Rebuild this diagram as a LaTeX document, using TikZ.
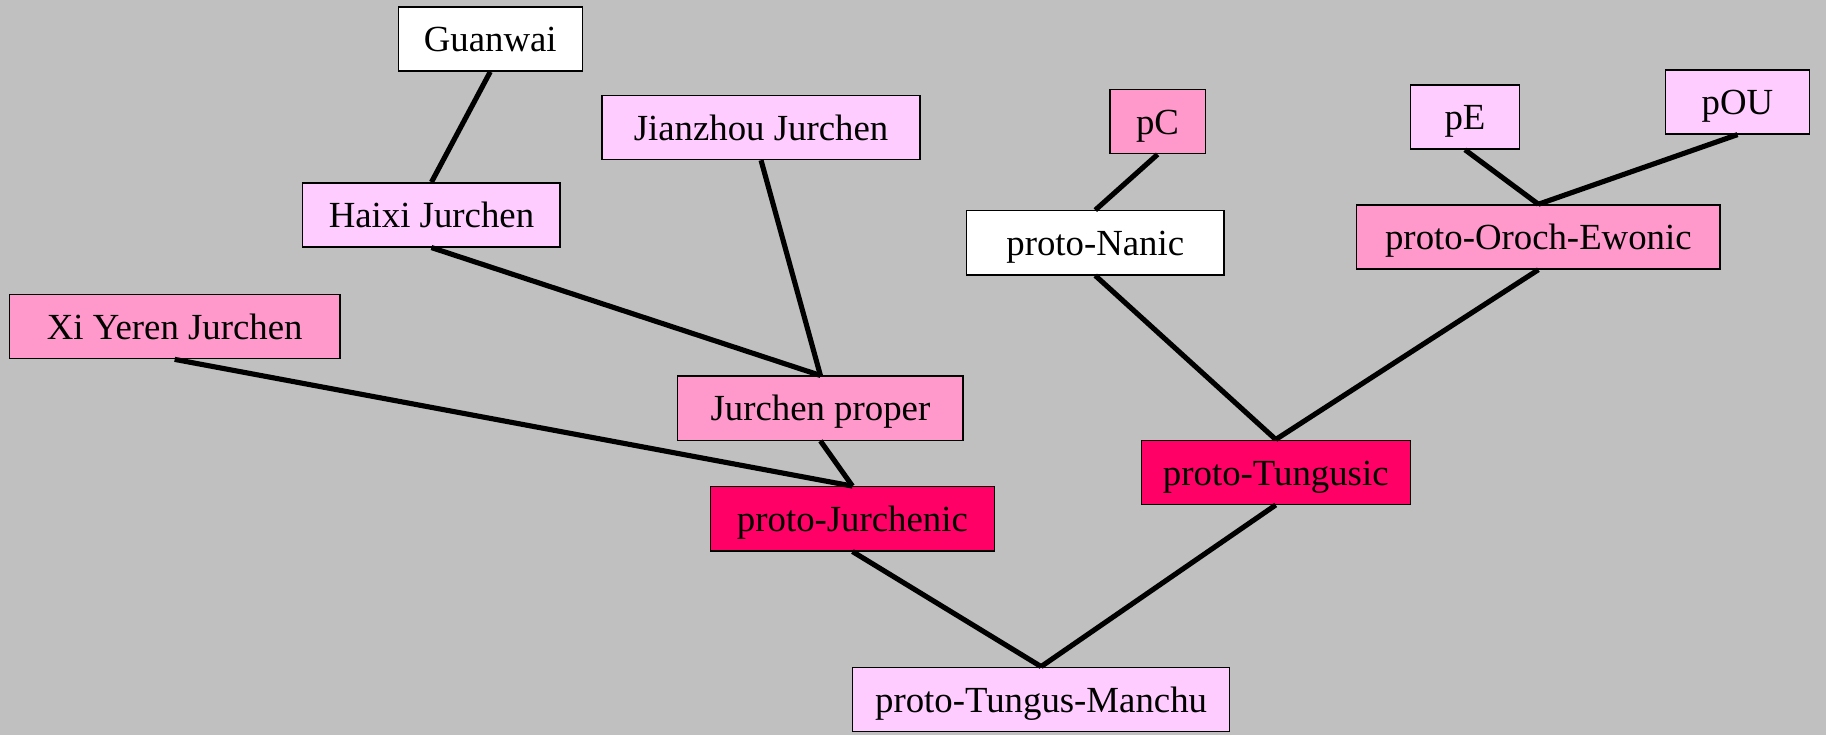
\documentclass[tikz,border=0pt]{standalone}
\usepackage{fontspec}
\setmainfont{Liberation Serif}
\usepackage{tikz}

\definecolor{bggray}{HTML}{C0C0C0}
\definecolor{lightpink}{HTML}{FFCCFF}
\definecolor{midpink}{HTML}{FF99CC}
\definecolor{deeppink}{HTML}{FF0066}

\begin{document}
\begin{tikzpicture}[
    x=0.5pt, y=-0.5pt,
    box/.style={rectangle, draw, line width=0.6pt, inner sep=0pt, minimum height=27.5pt, text height=12pt, text depth=1pt, font=\fontsize{15.8}{18}\selectfont},
    edge/.style={line width=2.2pt},
]
    \fill[bggray] (0,0) rectangle (1568,631);
    \useasboundingbox (0,0) rectangle (1568,631);

    \node[box, fill=white, minimum width=79pt] (guanwai) at (421,33.5) {Guanwai};
    \node[box, fill=lightpink, minimum width=136.5pt] (jianzhou) at (653.5,109.5) {Jianzhou Jurchen};
    \node[box, fill=lightpink, minimum width=110.5pt] (haixi) at (370.5,184.5) {Haixi Jurchen};
    \node[box, fill=midpink, minimum width=142pt] (xiyeren) at (150,280.5) {Xi Yeren Jurchen};
    \node[box, fill=midpink, minimum width=122.5pt] (jproper) at (704.5,350.5) {Jurchen proper};
    \node[box, fill=deeppink, minimum width=122pt] (pjurchenic) at (732,445.5) {proto-Jurchenic};
    \node[box, fill=lightpink, minimum width=162pt] (ptm) at (894,600.5) {proto-Tungus-Manchu};
    \node[box, fill=midpink, minimum width=41pt] (pc) at (994,104.5) {pC};
    \node[box, fill=white, minimum width=110.5pt] (pnanic) at (940.5,208.5) {proto-Nanic};
    \node[box, fill=lightpink, minimum width=47pt] (pe) at (1258,100.5) {pE};
    \node[box, fill=lightpink, minimum width=62pt] (pou) at (1492,87.5) {pOU};
    \node[box, fill=midpink, minimum width=156pt] (poe) at (1321,203.5) {proto-Oroch-Ewonic};
    \node[box, fill=deeppink, minimum width=115.5pt] (ptungusic) at (1095.5,405.5) {proto-Tungusic};

    \draw[edge] (guanwai.south) -- (haixi.north);
    \draw[edge] (haixi.south) -- (jproper.north);
    \draw[edge] (jianzhou.south) -- (jproper.north);
    \draw[edge] (xiyeren.south) -- (pjurchenic.north);
    \draw[edge] (jproper.south) -- (pjurchenic.north);
    \draw[edge] (pjurchenic.south) -- (ptm.north);
    \draw[edge] (ptungusic.south) -- (ptm.north);
    \draw[edge] (pc.south) -- (pnanic.north);
    \draw[edge] (pnanic.south) -- (ptungusic.north);
    \draw[edge] (pe.south) -- (poe.north);
    \draw[edge] (pou.south) -- (poe.north);
    \draw[edge] (poe.south) -- (ptungusic.north);
\end{tikzpicture}
\end{document}
